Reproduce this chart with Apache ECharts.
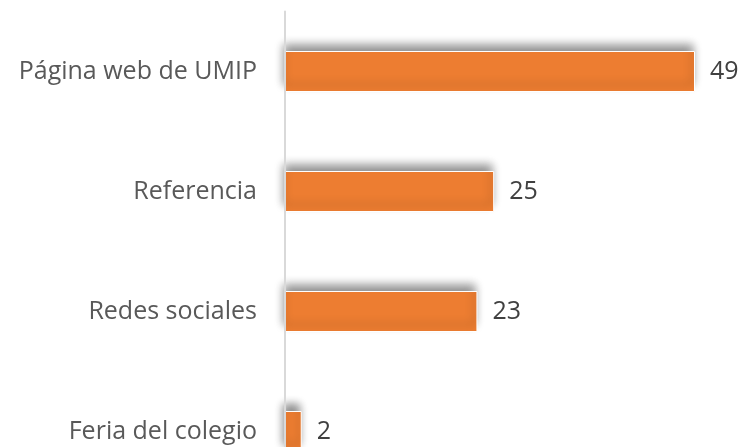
<!DOCTYPE html>
<html>
<head>
<meta charset="utf-8">
<script src="https://cdn.jsdelivr.net/npm/echarts@6/dist/echarts.min.js"></script>
<style>
  html, body { margin: 0; padding: 0; background: #fff; }
  #chart { width: 741px; height: 447px; }
</style>
</head>
<body>
<div id="chart"></div>
<script>
// categorias de arriba a abajo
const categories = ['Página web de UMIP', 'Referencia', 'Redes sociales', 'Feria del colegio'];
const values = [49, 25, 23, 2];

const chart = echarts.init(document.getElementById('chart'));

const option = {
  animation: false,
  grid: {
    left: 285,
    right: 46,
    top: 11.5,
    height: 480,
    outerBoundsMode: 'none'
  },
  xAxis: {
    type: 'value',
    min: 0,
    max: 49,
    show: false
  },
  yAxis: {
    type: 'category',
    inverse: true,
    data: categories,
    axisLine: { show: true, lineStyle: { color: '#d9d9d9', width: 2 } },
    axisTick: { show: false },
    axisLabel: {
      margin: 28,
      color: '#595959',
      fontFamily: 'Open Sans',
      fontSize: 25
    },
    z: 5
  },
  series: [
    {
      type: 'bar',
      data: values,
      barWidth: 41,
      itemStyle: {
        color: '#ED7D31',
        borderColor: '#ffffff',
        borderWidth: 1,
        shadowColor: 'rgba(0,0,0,0.45)',
        shadowBlur: 9,
        shadowOffsetX: -2,
        shadowOffsetY: -7
      },
      label: {
        show: true,
        position: 'right',
        distance: 15,
        color: '#404040',
        fontFamily: 'Open Sans',
        fontSize: 25
      }
    }
  ]
};

chart.setOption(option);
</script>
</body>
</html>
